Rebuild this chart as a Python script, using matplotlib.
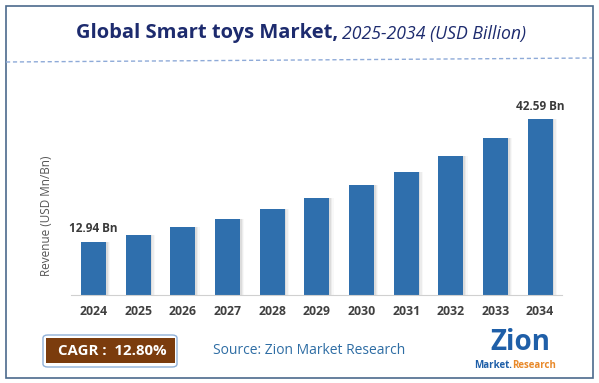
import numpy as np
from matplotlib import pyplot as plt
from matplotlib.patches import Rectangle, FancyBboxPatch

years = ['2024', '2025', '2026', '2027', '2028', '2029', '2030', '2031', '2032', '2033', '2034']
revenue = [12.94, 14.6, 16.4, 18.5, 20.8, 23.5, 26.5, 29.8, 33.6, 37.9, 42.59]
labels = {0: '12.94 Bn', 10: '42.59 Bn'}

plt.rcParams['font.family'] = ['Open Sans', 'DejaVu Sans']

fig = plt.figure(figsize=(5.99, 3.83), dpi=100)
W, H = 599, 383

def fx(px):
    return px / W

def fy(py):
    return 1 - py / H

# outer frame
fig.patches.append(Rectangle((fx(5.5), fy(377.5)), fx(593) - fx(5.5), fy(6) - fy(377.5),
                             transform=fig.transFigure, fill=False,
                             edgecolor='#4b6a8c', linewidth=1.2))

# title
fig.text(fx(338), fy(33), 'Global Smart toys Market,', ha='right', va='center',
         fontsize=14.5, fontweight='bold', color='#1d2b6e')
fig.text(fx(342), fy(34), '2025-2034 (USD Billion)', ha='left', va='center',
         fontsize=12.7, fontstyle='italic', color='#1d2b6e')
fig.add_artist(plt.Line2D([fx(6), fx(592)], [fy(62), fy(58)], transform=fig.transFigure,
                          color='#8eaad8', linestyle=(0, (3, 2)), linewidth=1))

ax = fig.add_axes([fx(71), fy(295), fx(562) - fx(71), fy(110) - fy(295)])
x = np.arange(len(years))
# soft shadow on the right of the bars
for k, a in enumerate([0.10, 0.07, 0.04]):
    ax.bar(x + 0.04 + k * 0.03, revenue, width=0.56, color='#555555', alpha=a, zorder=1)
ax.bar(x, revenue, width=0.56, color='#2f6fad', zorder=2)

for i, t in labels.items():
    ax.text(x[i], revenue[i] + 1.5, t, ha='center', va='bottom', fontsize=8.5,
            fontweight='bold', color='#3a3a3a')

ax.set_xlim(-0.504, 10.49)
ax.set_ylim(0, 44.77)
ax.set_xticks(x)
ax.set_xticklabels(years, fontsize=8.8, fontweight='bold', color='#404040')
ax.set_yticks([])
ax.tick_params(axis='x', length=0, pad=7)
for s in ['top', 'right', 'left']:
    ax.spines[s].set_visible(False)
ax.spines['bottom'].set_color('#d0d0d0')

fig.text(fx(46.5), fy(216), 'Revenue (USD Mn/Bn)', rotation=90, ha='center', va='center',
         fontsize=8.5, color='#555555')

# CAGR badge
fig.patches.append(FancyBboxPatch((fx(43), fy(367)), fx(177) - fx(43), fy(335) - fy(367),
                                  boxstyle='round,pad=0,rounding_size=0.008',
                                  transform=fig.transFigure, facecolor='white',
                                  edgecolor='#8fb0d8', linewidth=1))
fig.patches.append(Rectangle((fx(46), fy(363)), fx(175) - fx(46), fy(338) - fy(363),
                             transform=fig.transFigure, facecolor='#7b3c0d', edgecolor='none'))
fig.text(fx(112), fy(351), 'CAGR :  12.80%', ha='center', va='center', fontsize=10.8,
         fontweight='bold', color='white')

fig.text(fx(213), fy(350), 'Source: Zion Market Research', ha='left', va='center',
         fontsize=10, color='#2e6da4')

# logo
fig.text(fx(520), fy(342), 'Zion', ha='center', va='center', fontsize=20,
         fontweight='bold', color='#1f5fa8')
fig.text(fx(512), fy(365), 'Market.', ha='right', va='center', fontsize=7,
         fontweight='bold', color='#1f5fa8')
fig.text(fx(512), fy(365), 'Research', ha='left', va='center', fontsize=7,
         fontweight='bold', color='#e8892a')

fig.savefig('out.png', dpi=100)
